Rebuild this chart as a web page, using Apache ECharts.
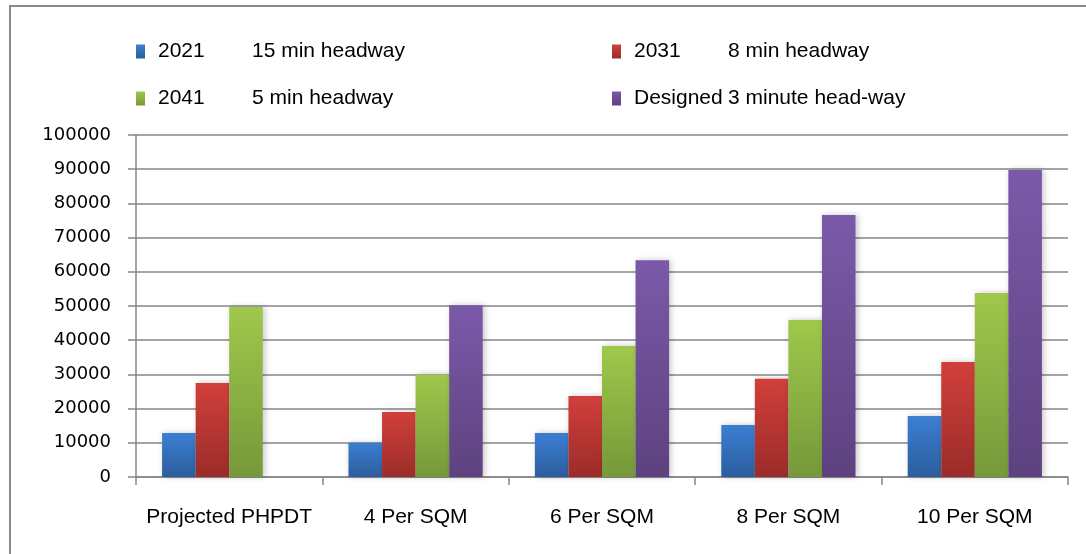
<!DOCTYPE html>
<html>
<head>
<meta charset="utf-8">
<script src="https://cdn.jsdelivr.net/npm/echarts@6/dist/echarts.min.js"></script>
<style>
  html, body { margin: 0; padding: 0; background: #fff; }
  #wrap { position: relative; width: 1086px; height: 554px; overflow: hidden; }
  #frame {
    position: absolute; left: 9px; top: 5px; width: 1100px; height: 600px;
    border-left: 2px solid #8a8a8a; border-top: 2px solid #8a8a8a;
    pointer-events: none;
  }
  #chart { position: absolute; left: 0; top: 0; width: 1086px; height: 554px; }
</style>
</head>
<body>
<div id="wrap">
  <div id="chart"></div>
  <div id="frame"></div>
</div>
<script>
  // categories + series
  var categories = ['Projected PHPDT', '4 Per SQM', '6 Per SQM', '8 Per SQM', '10 Per SQM'];
  var seriesNames = ['2021  15 min headway', '2031  8 min headway', '2041  5 min headway', 'Designed  3 minute head-way'];
  var values2021 = [12900, 10000, 12900, 15200, 17800];
  var values2031 = [27500, 19000, 23700, 28700, 33600];
  var values2041 = [49700, 30000, 38300, 45900, 53800];
  var valuesDesigned = [null, 50200, 63400, 76600, 89800];
  var yTicks = { min: 0, max: 100000, interval: 10000 };

  var palette = [
    ['#3b7fd2', '#2c5d9e'],
    ['#d13f3b', '#9b2c29'],
    ['#9fc84b', '#76983a'],
    ['#7b59a9', '#5d427f']
  ];
  var allValues = [values2021, values2031, values2041, valuesDesigned];

  var myChart = echarts.init(document.getElementById('chart'));

  function grad(c) {
    return new echarts.graphic.LinearGradient(0, 0, 0, 1, [
      { offset: 0, color: c[0] },
      { offset: 1, color: c[1] }
    ]);
  }

  function legendFor(name, left, top) {
    return {
      data: [name],
      left: left,
      top: top,
      itemWidth: 9,
      itemHeight: 14,
      icon: 'rect',
      selectedMode: false,
      formatter: function (n) {
        var parts = n.split(/\s{2,}/);
        return '{a|' + parts[0] + '}{b|' + parts[1] + '}';
      },
      textStyle: {
        rich: {
          a: { width: 94, padding: [0, 0, 0, 8], fontSize: 21, fontFamily: 'Liberation Sans', color: '#000', lineHeight: 24 },
          b: { fontSize: 21, fontFamily: 'Liberation Sans', color: '#000', lineHeight: 24 }
        }
      }
    };
  }

  var option = {
    animation: false,
    color: palette.map(function (p) { return p[0]; }),
    legend: [
      legendFor(seriesNames[0], 131, 36),
      legendFor(seriesNames[1], 607, 36),
      legendFor(seriesNames[2], 131, 83),
      legendFor(seriesNames[3], 607, 83)
    ],
    grid: { left: 136, right: 18, top: 135, bottom: 77 },
    xAxis: {
      type: 'category',
      data: categories,
      axisLine: { lineStyle: { color: '#868686', width: 1.5 } },
      axisTick: { show: true, interval: 0, length: 8, lineStyle: { color: '#868686', width: 1.5 } },
      axisLabel: { interval: 0, margin: 30, fontSize: 21, fontFamily: 'Liberation Sans', color: '#000' }
    },
    yAxis: {
      type: 'value',
      min: yTicks.min,
      max: yTicks.max,
      interval: yTicks.interval,
      axisLine: { show: true, lineStyle: { color: '#868686', width: 1.5 } },
      axisTick: { show: true, length: 8, lineStyle: { color: '#868686', width: 1.5 } },
      splitLine: { lineStyle: { color: '#868686', width: 1.5 } },
      axisLabel: {
        margin: 25, fontSize: 18, fontFamily: 'DejaVu Sans', color: '#000',
        formatter: function (v) { return String(v); }
      }
    },
    series: seriesNames.map(function (name, i) {
      return {
        name: name,
        type: 'bar',
        data: allValues[i],
        barGap: '0%',
        barCategoryGap: '28%',
        itemStyle: {
          color: grad(palette[i]),
          shadowColor: 'rgba(0,0,0,0.22)',
          shadowBlur: 6,
          shadowOffsetX: 2
        }
      };
    })
  };

  myChart.setOption(option);
  window.addEventListener('resize', function () { myChart.resize(); });
</script>
</body>
</html>
